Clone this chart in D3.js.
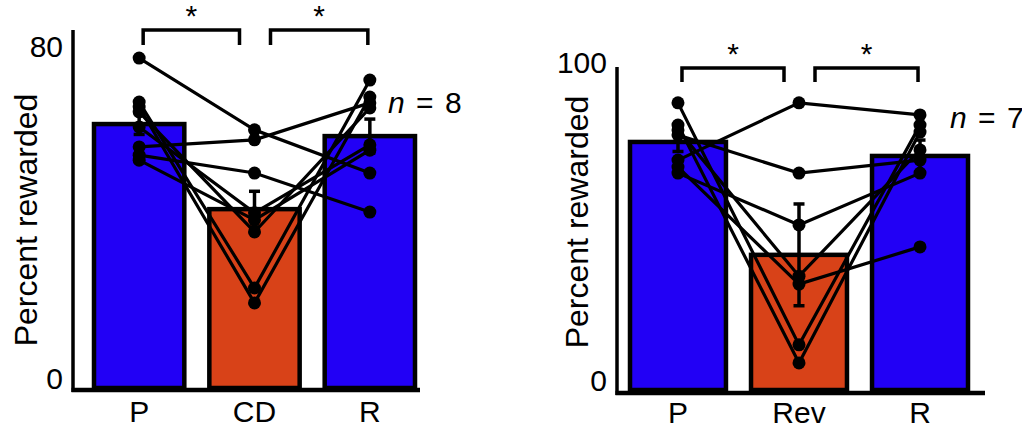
<!DOCTYPE html>
<html><head><meta charset="utf-8">
<script src="https://cdn.jsdelivr.net/npm/d3@7"></script>
<style>
body{margin:0;background:#fff}
svg{display:block}
text{font-family:"Liberation Sans",Arial,sans-serif;fill:#000}
</style>
</head><body>
<svg id="c" width="1022" height="429"></svg>
<script>
// ---------- DATA ----------
// Panel A (cue devaluation)
const catsA = ["P", "CD", "R"];
const meanA = [63.6, 43.1, 60.7];
const semA = [2.5, 4.3, 4.1];
const subjA_P  = [79.5, 68.9, 67.7, 66.5, 62.9, 58.1, 56.1, 54.9];
const subjA_CD = [62.2, 24.1, 20.5, 37.6, 42.2, 59.8, 51.8, 40.5];
const subjA_R  = [51.8, 74.2, 70.1, 67.5, 58.6, 68.7, 42.4, 57.3];
const ticksA = [0, 80];
const nA = "8";

// Panel B (reversal)
const catsB = ["P", "Rev", "R"];
const meanB = [78.0, 42.5, 73.6];
const semB = [3.0, 16.0, 5.0];
const subjB_P   = [72.3, 80.2, 68.2, 70.1, 90.3, 83.3, 81.8];
const subjB_Rev = [90.3, 68.2, 51.9, 33.3, 14.2, 8.5, 35.8];
const subjB_R   = [86.5, 72.3, 68.2, 45.0, 83.3, 81.1, 75.5];
const ticksB = [0, 100];
const nB = "7";

const sigLabel = "*";
const yTitle = "Percent rewarded";
const barColors = ["#2200f5", "#d84218", "#2200f5"];

// ---------- DRAW ----------
const svg = d3.select("#c");

function panel(cfg) {
  const g = svg.append("g");
  const x = d3.scaleBand().domain(cfg.cats).range(cfg.xRange)
    .paddingInner(cfg.pad).paddingOuter(0);
  const y = d3.scaleLinear().domain([0, cfg.ticks[1]]).range(cfg.yRange);
  const cx = c => x(c) + x.bandwidth() / 2;

  const bars = cfg.cats.map((c, i) => ({c, m: cfg.mean[i], s: cfg.sem[i], col: barColors[i]}));

  // bars
  g.selectAll("rect.bar").data(bars).join("rect")
    .attr("x", d => x(d.c)).attr("width", x.bandwidth())
    .attr("y", d => y(d.m)).attr("height", d => y(0) - y(d.m))
    .attr("fill", d => d.col).attr("stroke", "#000").attr("stroke-width", 4.5);

  // axes lines
  g.append("line").attr("x1", cfg.axisX).attr("x2", cfg.axisX)
    .attr("y1", cfg.axisTop).attr("y2", cfg.xAxisY + 2)
    .attr("stroke", "#000").attr("stroke-width", 3.5);
  g.append("line").attr("x1", cfg.axisX - 1.5).attr("x2", cfg.xAxisEnd)
    .attr("y1", cfg.xAxisY).attr("y2", cfg.xAxisY)
    .attr("stroke", "#000").attr("stroke-width", 4.5);

  // y tick labels
  const ya = g.append("g").attr("transform", `translate(${cfg.axisX},0)`)
    .call(d3.axisLeft(y).tickValues(cfg.ticks).tickSize(0).tickPadding(10));
  ya.select(".domain").remove();
  ya.selectAll("text").attr("dy", "0").attr("font-size", 30)
    .attr("font-family", '"Liberation Sans",Arial,sans-serif').attr("fill", "#000");

  // x labels
  const xa = g.append("g").attr("transform", `translate(0,${cfg.xAxisY})`)
    .call(d3.axisBottom(x).tickSize(0).tickPadding(cfg.labelOffset));
  xa.select(".domain").remove();
  xa.selectAll("text").attr("dy", "0").attr("font-size", 30)
    .attr("font-family", '"Liberation Sans",Arial,sans-serif').attr("fill", "#000");

  // y title
  g.append("text").attr("transform", `translate(${cfg.titleX},${cfg.titleY}) rotate(-90)`)
    .attr("text-anchor", "middle").attr("font-size", 32).text(yTitle);

  // error bars
  const eb = g.selectAll("g.eb").data(bars).join("g");
  eb.append("line").attr("x1", d => cx(d.c)).attr("x2", d => cx(d.c))
    .attr("y1", d => y(d.m + d.s)).attr("y2", d => y(d.m - d.s))
    .attr("stroke", "#000").attr("stroke-width", 3.5);
  eb.selectAll("line.cap").data(d => [[d.c, d.m + d.s], [d.c, d.m - d.s]]).join("line")
    .attr("x1", d => cx(d[0]) - 5.5).attr("x2", d => cx(d[0]) + 5.5)
    .attr("y1", d => y(d[1])).attr("y2", d => y(d[1]))
    .attr("stroke", "#000").attr("stroke-width", 3.5);

  // subject lines
  const subjects = cfg.subj[0].map((_, k) => cfg.cats.map((c, i) => [cx(c), y(cfg.subj[i][k])]));
  const line = d3.line();
  g.selectAll("path.subj").data(subjects).join("path")
    .attr("d", line).attr("fill", "none").attr("stroke", "#000").attr("stroke-width", 3.2);
  g.selectAll("circle.pt").data(subjects.flat()).join("circle")
    .attr("cx", d => d[0]).attr("cy", d => d[1]).attr("r", 6.5).attr("fill", "#000");

  // significance brackets
  const br = [
    [cx(cfg.cats[0]) + 4, cx(cfg.cats[1]) - 15],
    [cx(cfg.cats[1]) + 16, cx(cfg.cats[2]) - 2]
  ];
  br.forEach(([a, b]) => {
    g.append("path")
      .attr("d", `M${a},${cfg.brY + cfg.brLeg}V${cfg.brY}H${b}V${cfg.brY + cfg.brLeg}`)
      .attr("fill", "none").attr("stroke", "#000").attr("stroke-width", 3.5);
    g.append("text").attr("x", (a + b) / 2).attr("y", cfg.brY - 4)
      .attr("text-anchor", "middle").attr("font-size", 30).text(sigLabel);
  });

  // n label
  const t = g.append("text").attr("x", cfg.nX).attr("y", cfg.nY)
    .attr("font-size", 30).attr("word-spacing", "3px");
  t.append("tspan").attr("font-style", "italic").text("n");
  t.append("tspan").text(" = " + cfg.n);
}

panel({
  cats: catsA, mean: meanA, sem: semA, subj: [subjA_P, subjA_CD, subjA_R], ticks: ticksA, n: nA,
  xRange: [94, 415], pad: 0.217, yRange: [388, 56],
  axisX: 73, axisTop: 30, xAxisY: 390, xAxisEnd: 420, labelOffset: 32,
  titleX: 37, titleY: 220, brY: 30, brLeg: 15, nX: 388, nY: 113
});
panel({
  cats: catsB, mean: meanB, sem: semB, subj: [subjB_P, subjB_Rev, subjB_R], ticks: ticksB, n: nB,
  xRange: [630, 968], pad: 0.207, yRange: [390, 72],
  axisX: 617, axisTop: 67, xAxisY: 393, xAxisEnd: 985, labelOffset: 30,
  titleX: 588, titleY: 222, brY: 68, brLeg: 14, nX: 950, nY: 128
});
</script>
</body></html>
